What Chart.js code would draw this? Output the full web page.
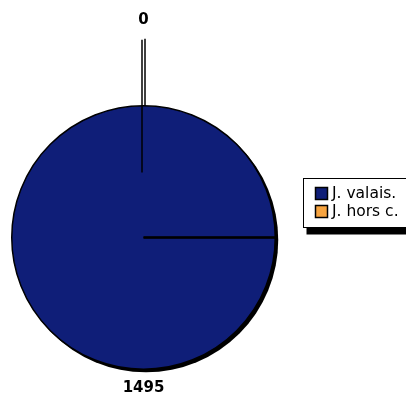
<!DOCTYPE html>
<html>
<head>
<meta charset="utf-8">
<script src="https://cdn.jsdelivr.net/npm/chart.js@4/dist/chart.umd.min.js"></script>
<style>
  html, body { margin: 0; padding: 0; background: #fff; }
  #wrap { width: 406px; height: 401px; }
</style>
</head>
<body>
<div id="wrap"><canvas id="pie" width="406" height="401"></canvas></div>
<script>
const labels = ['J. valais.', 'J. hors c.'];
const values = [1495, 0];
const colors = ['#0f1e78', '#f7a440'];

// shadow under the pie + shadow of the leader line, labels and legend on top
const extras = {
    id: 'extras',
    beforeDatasetsDraw(chart) {
        const arc = chart.getDatasetMeta(0).data[0];
        const { x, y, outerRadius: r } = arc;
        const ctx = chart.ctx;
        ctx.save();
        ctx.fillStyle = '#000';
        ctx.beginPath();
        ctx.arc(x + 2.5, y + 2.5, r + 0.5, 0, Math.PI * 2);
        ctx.fill();
        // leader line shadow
        ctx.strokeStyle = '#000';
        ctx.lineWidth = 1.5;
        ctx.beginPath();
        ctx.moveTo(x + 1.5, y - r - 67);
        ctx.lineTo(x + 1.5, y - r + 5);
        ctx.stroke();
        ctx.restore();
    },
    afterDatasetsDraw(chart) {
        const arc = chart.getDatasetMeta(0).data[0];
        const { x, y, outerRadius: r } = arc;
        const ctx = chart.ctx;
        ctx.save();
        ctx.strokeStyle = '#000';
        // line at start of slice
        ctx.lineWidth = 2.5;
        ctx.beginPath();
        ctx.moveTo(x, y);
        ctx.lineTo(x + r, y);
        ctx.stroke();
        // leader line for the empty slice
        ctx.lineWidth = 1.5;
        ctx.beginPath();
        ctx.moveTo(x - 1.5, y - r - 66);
        ctx.lineTo(x - 1.5, y - 65);
        ctx.stroke();

        ctx.fillStyle = '#000';
        ctx.font = 'bold 15px "DejaVu Sans"';
        ctx.textAlign = 'center';
        ctx.textBaseline = 'middle';
        ctx.fillText(String(values[1]), x, y - r - 86);
        ctx.fillText(String(values[0]), x, y + r + 19);

        // legend
        const lx = 303.5, ly = 178.5, lw = 104, lh = 49;
        ctx.fillStyle = '#000';
        ctx.fillRect(lx + 3, ly + lh, lw, 7);
        ctx.fillStyle = '#fff';
        ctx.fillRect(lx, ly, lw, lh);
        ctx.lineWidth = 1;
        ctx.strokeRect(lx, ly, lw, lh);
        ctx.font = '15.5px "DejaVu Sans"';
        ctx.textAlign = 'left';
        labels.forEach((lab, i) => {
            const ry = 187.5 + i * 18;
            ctx.fillStyle = colors[i];
            ctx.fillRect(315.5, ry, 12, 12);
            ctx.lineWidth = 1.5;
            ctx.strokeRect(315.5, ry, 12, 12);
            ctx.fillStyle = '#000';
            ctx.fillText(lab, 332, ry + 6.5);
        });
        ctx.restore();
    },
};

new Chart(document.getElementById('pie').getContext('2d'), {
    type: 'pie',
    data: {
        labels,
        datasets: [{
            data: values,
            backgroundColor: colors,
            borderColor: '#000',
            borderWidth: 1.5,
        }],
    },
    options: {
        responsive: false,
        animation: false,
        rotation: 90,
        layout: { padding: { left: 11, top: 105, right: 130, bottom: 31 } },
        plugins: {
            legend: { display: false },
            tooltip: { enabled: false },
        },
    },
    plugins: [extras],
});
</script>
</body>
</html>
